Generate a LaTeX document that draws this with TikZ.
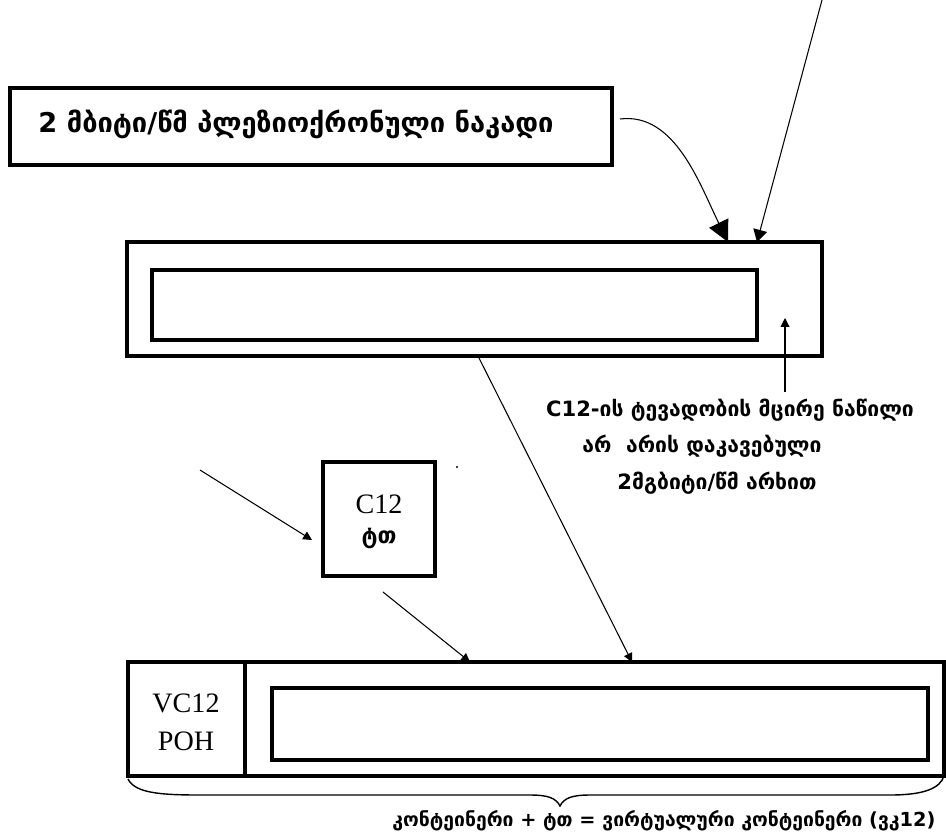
\documentclass[tikz,border=0pt]{standalone}
\usepackage{fontspec}
\setmainfont{Liberation Serif}
\newfontfamily\geo{DejaVu Sans}
\usetikzlibrary{arrows.meta,fit}
\tikzset{
  thickbox/.style={draw, line width=1.8pt, inner sep=0pt},
  conn/.style={line width=0.6pt},
  geotext/.style={font=\geo\bfseries\fontsize{12}{14}\selectfont, inner sep=0pt},
  latintext/.style={font=\fontsize{16}{18}\selectfont, inner sep=0pt},
  bigtip/.style={-{Triangle[length=12pt,width=12pt]}},
  midtip/.style={-{Triangle[length=7pt,width=8pt]}},
  smalltip/.style={-{Triangle[length=5pt,width=5pt]}}
}
\begin{document}
\begin{tikzpicture}[x=0.02cm,y=-0.02cm]
\useasboundingbox (0,0) rectangle (946,836);
% top text box
\node[thickbox, fit={(10,88)(612,165)}] (topbox) {};
\node[geotext, font=\geo\bfseries\fontsize{15.5}{18}\selectfont, anchor=west] (toptext) at (38,124) {2 მბიტი/წმ პლეზიოქრონული ნაკადი};
% container C12 box
\node[thickbox, fit={(127,242)(822,356)}] (box1) {};
\node[thickbox, fit={(152,270)(757,340)}] (box1in) {};
% annotation
\node[geotext] (ann1) at (730,410) {C12-ის ტევადობის მცირე ნაწილი};
\node[geotext] (ann2) at (702,446) {არ\ \ არის დაკავებული};
\node[geotext] (ann3) at (717,483) {2მგბიტი/წმ არხით};
% C12 POH box
\node[thickbox, fit={(323,462)(435,576)}] (pohbox) {};
\node[latintext] (c12) at (379,504) {C12};
\node[geotext, font=\geo\bfseries\fontsize{13}{15}\selectfont] (poh) at (379,538) {ტთ};
% VC12 box
\node[thickbox, fit={(128,662)(944,776)}] (vcbox) {};
\node[thickbox, fit={(272,688)(928,760)}] (vcin) {};
\coordinate (divtop) at (245,662);
\coordinate (divbot) at (245,776);
\draw[line width=2.8pt] (divtop) -- (divbot);
\node[latintext] (vc12) at (186,703) {VC12};
\node[latintext] (pohl) at (186,741) {POH};
% connectors
\coordinate (curvestart) at (620,119);
\coordinate (curveend) at (728,242);
\draw[conn, bigtip] (curvestart) .. controls (675,112) and (700,185) .. (curveend);
\coordinate (topin) at (822,0);
\coordinate (topend) at (757,242);
\draw[conn, midtip] (topin) -- (topend);
\coordinate (upstart) at (785,392);
\coordinate (upend) at (785,318);
\draw[conn, smalltip] (upstart) -- (upend);
\coordinate (diagstart) at (478,356);
\coordinate (diagend) at (632,662);
\draw[conn, smalltip] (diagstart) -- (diagend);
\coordinate (pohin) at (200,470);
\coordinate (pohend) at (312,540);
\draw[conn, smalltip] (pohin) -- (pohend);
\coordinate (pohout) at (383,592);
\coordinate (pohoutend) at (470,662);
\draw[conn, smalltip] (pohout) -- (pohoutend);
\fill (457,467) circle (0.6pt);
% brace
\coordinate (brl) at (128,779);
\coordinate (brtip) at (560,806);
\coordinate (brr) at (944,776);
\draw[line width=0.8pt] (brl) .. controls (135,793) and (160,795) .. (200,795)
  -- (530,795) .. controls (548,795) and (556,798) .. (brtip)
  .. controls (564,798) and (572,795) .. (590,795)
  -- (890,795) .. controls (925,795) and (940,788) .. (brr);
\node[geotext, font=\geo\bfseries\fontsize{11}{13}\selectfont] (bottomtext) at (664,821) {კონტეინერი + ტთ = ვირტუალური კონტეინერი (ვკ12)};
\end{tikzpicture}
\end{document}
